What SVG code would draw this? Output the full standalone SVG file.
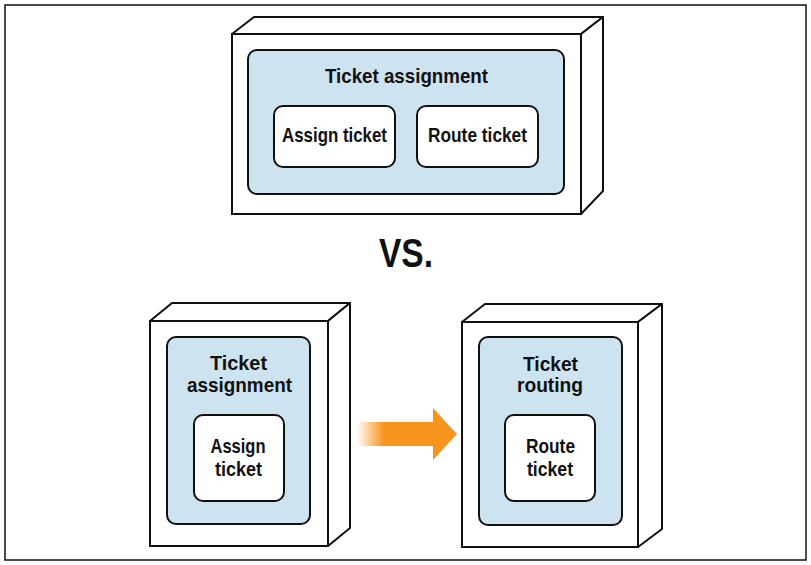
<svg xmlns="http://www.w3.org/2000/svg" width="811" height="565" viewBox="0 0 811 565">
  <defs>
    <style>
      .box { fill: #ffffff; stroke: #111111; stroke-width: 2; stroke-linejoin: miter; }
      .face { fill: #ffffff; stroke: #111111; stroke-width: 2; stroke-linejoin: round; }
      .ctx { fill: #cde3f0; stroke: #111111; stroke-width: 2; }
      .svc { fill: #ffffff; stroke: #111111; stroke-width: 2; }
      .t { font-family: "Liberation Sans", Arial, sans-serif; font-weight: bold; font-size: 21px; fill: #111111; text-anchor: middle; }
      .vs { font-family: "Liberation Sans", Arial, sans-serif; font-weight: bold; font-size: 41px; fill: #111111; text-anchor: middle; }
    </style>
    <linearGradient id="arrowGrad" gradientUnits="userSpaceOnUse" x1="357" y1="0" x2="384" y2="0">
      <stop offset="0" stop-color="#f7941d" stop-opacity="0"/>
      <stop offset="1" stop-color="#f7941d" stop-opacity="1"/>
    </linearGradient>
  </defs>

  <rect x="5" y="5" width="801" height="555" fill="#ffffff" stroke="#111111" stroke-width="1.5"/>

  <g id="top-deployment">
    <polygon class="face" points="232,34 254,17 603,17 581,34"/>
    <polygon class="face" points="581,34 603,17 603,191 581,214"/>
    <rect class="box" x="232" y="34" width="349" height="180"/>
    <g id="top-ticket-assignment">
      <rect class="ctx" x="248" y="50" width="316" height="144" rx="9"/>
      <text class="t" x="406.5" y="83" textLength="163" lengthAdjust="spacingAndGlyphs">Ticket assignment</text>
    </g>
    <g id="top-assign-ticket">
      <rect class="svc" x="274" y="106" width="121" height="61" rx="9"/>
      <text class="t" x="334.5" y="142" textLength="105" lengthAdjust="spacingAndGlyphs">Assign ticket</text>
    </g>
    <g id="top-route-ticket">
      <rect class="svc" x="417" y="106" width="121" height="61" rx="9"/>
      <text class="t" x="477.5" y="142" textLength="99" lengthAdjust="spacingAndGlyphs">Route ticket</text>
    </g>
  </g>

  <text class="vs" x="406" y="267" textLength="54" lengthAdjust="spacingAndGlyphs">VS.</text>

  <g id="bottom-left-deployment">
    <polygon class="face" points="150,321 172,303 350,303 328,321"/>
    <polygon class="face" points="328,321 350,303 350,528 328,546"/>
    <rect class="box" x="150" y="321" width="178" height="225"/>
    <g id="bl-ticket-assignment">
      <rect class="ctx" x="167" y="337" width="143" height="187" rx="9"/>
      <text class="t" x="238.5" y="370" textLength="57" lengthAdjust="spacingAndGlyphs">Ticket</text>
      <text class="t" x="239.5" y="392" textLength="105" lengthAdjust="spacingAndGlyphs">assignment</text>
    </g>
    <g id="bl-assign-ticket">
      <rect class="svc" x="194" y="415" width="90" height="86" rx="9"/>
      <text class="t" x="238" y="453" textLength="55" lengthAdjust="spacingAndGlyphs">Assign</text>
      <text class="t" x="238.5" y="476" textLength="47" lengthAdjust="spacingAndGlyphs">ticket</text>
    </g>
  </g>

  <g id="connectors">
    <polygon fill="url(#arrowGrad)" points="357,422 433,422 433,408 457,434 433,460 433,446 357,446"/>
  </g>

  <g id="bottom-right-deployment">
    <polygon class="face" points="462,322 485,304 662,304 638,322"/>
    <polygon class="face" points="638,322 662,304 662,529 638,547"/>
    <rect class="box" x="462" y="322" width="176" height="225"/>
    <g id="br-ticket-routing">
      <rect class="ctx" x="479" y="337" width="143" height="188" rx="9"/>
      <text class="t" x="550.5" y="371" textLength="55" lengthAdjust="spacingAndGlyphs">Ticket</text>
      <text class="t" x="550" y="392" textLength="66" lengthAdjust="spacingAndGlyphs">routing</text>
    </g>
    <g id="br-route-ticket">
      <rect class="svc" x="505" y="415" width="90" height="86" rx="9"/>
      <text class="t" x="550.5" y="453" textLength="49" lengthAdjust="spacingAndGlyphs">Route</text>
      <text class="t" x="550" y="476" textLength="46" lengthAdjust="spacingAndGlyphs">ticket</text>
    </g>
  </g>
</svg>
